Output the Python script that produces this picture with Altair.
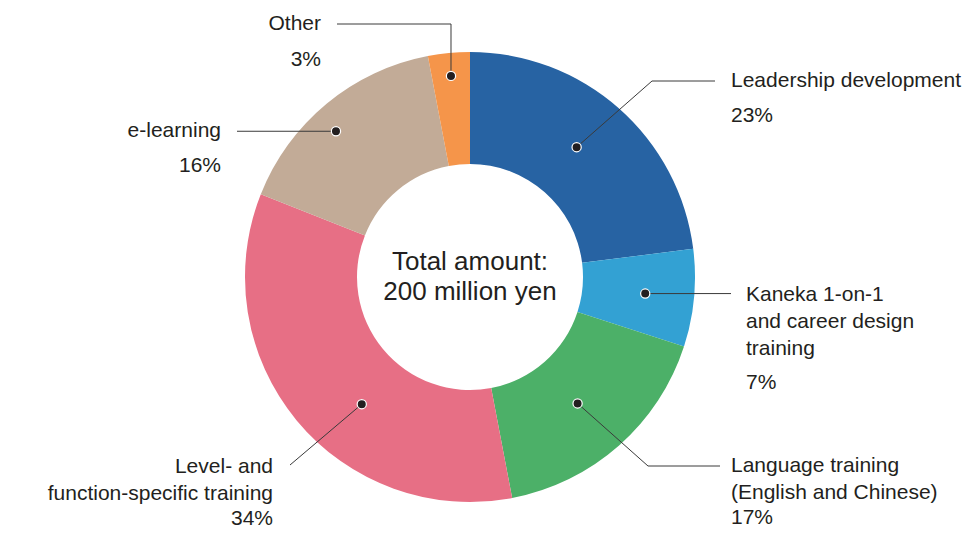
import math
import altair as alt
import pandas as pd

# ---------------- data ----------------
categories = [
    "Leadership development",
    "Kaneka 1-on-1 and career design training",
    "Language training (English and Chinese)",
    "Level- and function-specific training",
    "e-learning",
    "Other",
]
shares = [23, 7, 17, 34, 16, 3]
label_lines = [
    ["Leadership development"],
    ["Kaneka 1-on-1", "and career design", "training"],
    ["Language training", "(English and Chinese)"],
    ["Level- and", "function-specific training"],
    ["e-learning"],
    ["Other"],
]
center_lines = ["Total amount:", "200 million yen"]
colors = ["#2763a3", "#33a1d3", "#4cb068", "#e76f85", "#c2ab97", "#f5954a"]

# ---------------- layout (pixel-like units, centre of donut = 0,0, y down) ----------------
W, H = 959, 522
X_DOM = [-462, 497]
Y_DOM = [-269, 253]
R_IN, R_OUT = 113, 225
DOT_R = [168, 176, 166, 167, 198, 202]
DOT_SHIFT = [-2, 0, 1, -10, -3, 0]
LEADER = [
    [(182, -196), (245, -196)],
    [(261, None)],
    [(178, 189), (250, 189)],
    [(-180, 188)],
    [(-233, None)],
    [(-19, -253), (-133, -253)],
]
LABEL_X = [261, 276, 261, -197, -249, -149]
LABEL_ALIGN = ["left", "left", "left", "right", "right", "right"]
LABEL_Y0 = [-196, 18, 189, 190, -146, -253]
LINE_GAP = 27
PCT_DY = [35, 34, 25, 25, 35, 36]
CENTER_Y = [-15, 15]
FONT = "Liberation Sans"
TXT = "#231f20"

# ---------------- derived tables ----------------
arc_df = pd.DataFrame({
    "category": categories,
    "share": shares,
    "idx": list(range(len(categories))),
    "cx": 0.0,
    "cy": 0.0,
})

total = sum(shares)
dots, lines, texts = [], [], []
cum = 0
for i, (cat, s) in enumerate(zip(categories, shares)):
    mid = (cum + s / 2) / total * 360 + DOT_SHIFT[i]
    cum += s
    a = math.radians(mid)
    dx, dy = DOT_R[i] * math.sin(a), -DOT_R[i] * math.cos(a)
    dots.append({"category": cat, "x": dx, "y": dy})
    pts = [(dx, dy)] + [(px, dy if py is None else py) for px, py in LEADER[i]]
    for k, (px, py) in enumerate(pts):
        lines.append({"category": cat, "seq": k, "x": px, "y": py})
    y = LABEL_Y0[i]
    for j, t in enumerate(label_lines[i]):
        texts.append({"text": t, "x": LABEL_X[i], "y": y + j * LINE_GAP, "align": LABEL_ALIGN[i]})
    last = y + (len(label_lines[i]) - 1) * LINE_GAP
    texts.append({"text": f"{s}%", "x": LABEL_X[i], "y": last + PCT_DY[i], "align": LABEL_ALIGN[i]})

dot_df = pd.DataFrame(dots)
line_df = pd.DataFrame(lines)
text_df = pd.DataFrame(texts)
center_df = pd.DataFrame({"text": center_lines, "x": 0.0, "y": CENTER_Y})

xs = alt.Scale(domain=X_DOM, nice=False, zero=False)
ys = alt.Scale(domain=Y_DOM, nice=False, zero=False, reverse=True)

arc = alt.Chart(arc_df).mark_arc(innerRadius=R_IN, outerRadius=R_OUT, stroke=None).encode(
    x=alt.X("cx:Q", scale=xs, axis=None),
    y=alt.Y("cy:Q", scale=ys, axis=None),
    theta=alt.Theta("share:Q", stack=True),
    color=alt.Color("category:N", scale=alt.Scale(domain=categories, range=colors), legend=None),
    order=alt.Order("idx:Q"),
)

leader = alt.Chart(line_df).mark_line(color="#3a3a3a", strokeWidth=1).encode(
    x=alt.X("x:Q", scale=xs, axis=None),
    y=alt.Y("y:Q", scale=ys, axis=None),
    detail="category:N",
    order=alt.Order("seq:Q"),
)

dot = alt.Chart(dot_df).mark_circle(size=85, fill="#231f20", stroke="white", strokeWidth=1.2, opacity=1).encode(
    x=alt.X("x:Q", scale=xs, axis=None),
    y=alt.Y("y:Q", scale=ys, axis=None),
)

def label_layer(align):
    return alt.Chart(text_df).transform_filter(alt.datum.align == align).mark_text(
        align=align, baseline="middle", font=FONT, fontSize=21, color=TXT
    ).encode(
        x=alt.X("x:Q", scale=xs, axis=None),
        y=alt.Y("y:Q", scale=ys, axis=None),
        text="text:N",
    )

center = alt.Chart(center_df).mark_text(
    align="center", baseline="middle", font=FONT, fontSize=26, color=TXT
).encode(
    x=alt.X("x:Q", scale=xs, axis=None),
    y=alt.Y("y:Q", scale=ys, axis=None),
    text="text:N",
)

chart = alt.layer(arc, leader, dot, label_layer("left"), label_layer("right"), center).properties(
    width=W, height=H, padding=0, autosize=alt.AutoSizeParams(type="none")
).configure_view(stroke=None)

chart.save("out.html", embed_options={"renderer": "svg", "actions": False})
